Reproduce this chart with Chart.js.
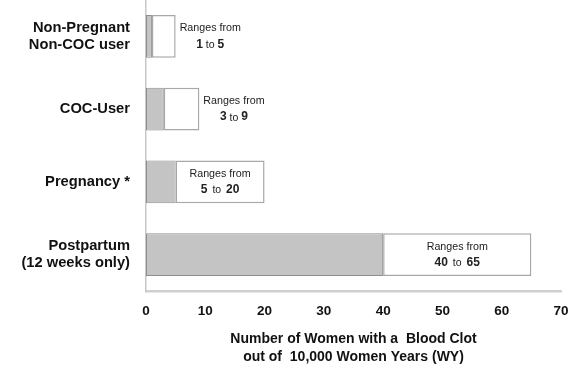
<!DOCTYPE html>
<html>
<head>
<meta charset="utf-8">
<script src="https://cdn.jsdelivr.net/npm/chart.js@4/dist/chart.umd.min.js"></script>
<style>
    body { margin: 0; background: #fff; }
    #grafico { display: block; }
</style>
</head>
<body>
<canvas id="grafico" width="582" height="382"></canvas>
<script>
// dados
const categorias = [
    ['Non-Pregnant', 'Non-COC user'],
    'COC-User',
    'Pregnancy *',
    ['Postpartum', '(12 weeks only)']
];
const valorMinimo = [1, 3, 5, 40];
const valorMaximo = [5, 9, 20, 65];
const tituloEixoX = ['Number of Women with a  Blood Clot', 'out of  10,000 Women Years (WY)'];

const fonte = '"Liberation Sans", Arial, sans-serif';

// plugin que escreve "Ranges from / x to y" em cada barra
const textoFaixas = {
    id: 'textoFaixas',
    afterDatasetsDraw(chart) {
        const ctx = chart.ctx;
        const meta = chart.getDatasetMeta(1);
        ctx.save();
        ctx.fillStyle = '#222';
        ctx.textBaseline = 'middle';
        meta.data.forEach((barra, i) => {
            const inicio = Math.min(barra.base, barra.x);
            const fim = Math.max(barra.base, barra.x);
            ctx.font = '10.7px ' + fonte;
            const w1 = ctx.measureText('Ranges from').width;

            // texto fica fora da barra se não couber
            let centro;
            if (w1 + 8 > fim - inicio) {
                centro = fim + 4 + w1 / 2;
            } else {
                centro = (inicio + fim) / 2;
            }

            ctx.textAlign = 'center';
            ctx.fillText('Ranges from', centro, barra.y - 8);

            const a = String(valorMinimo[i]);
            const b = String(valorMaximo[i]);
            ctx.font = 'bold 12px ' + fonte;
            const wa = ctx.measureText(a).width;
            const wb = ctx.measureText(b).width;
            ctx.font = '10.5px ' + fonte;
            const wt = ctx.measureText(' to ').width + (i >= 2 ? 4 : 0);
            let x = centro - (wa + wt + wb) / 2;

            ctx.textAlign = 'left';
            ctx.font = 'bold 12px ' + fonte;
            ctx.fillText(a, x, barra.y + 8);
            x += wa;
            ctx.font = '10.5px ' + fonte;
            ctx.textAlign = 'center';
            ctx.fillText('to', x + wt / 2, barra.y + 8.5);
            x += wt;
            ctx.textAlign = 'left';
            ctx.font = 'bold 12px ' + fonte;
            ctx.fillText(b, x, barra.y + 8);
        });
        ctx.restore();
    }
};

document.addEventListener('DOMContentLoaded', function() {
    const canvas = document.getElementById('grafico');
    const ctx = canvas.getContext('2d');

    const data = {
        labels: categorias,
        datasets: [{
            data: valorMinimo.map(v => [0, v]),
            backgroundColor: '#c4c4c4',
            borderColor: '#8e8e8e',
            borderWidth: 1,
            borderSkipped: false
        }, {
            data: valorMinimo.map((v, i) => [v, valorMaximo[i]]),
            backgroundColor: '#ffffff',
            borderColor: '#a8a8a8',
            borderWidth: 1.5,
            borderSkipped: false
        }]
    };

    const options = {
        responsive: false,
        animation: false,
        indexAxis: 'y',
        grouped: false,
        barPercentage: 0.59,
        categoryPercentage: 1,
        layout: { padding: { top: 0, right: 21, bottom: 0, left: 0 } },
        plugins: {
            legend: { display: false },
            tooltip: { enabled: false }
        },
        scales: {
            x: {
                min: 0,
                max: 70,
                ticks: {
                    stepSize: 10,
                    padding: 12,
                    color: '#111',
                    font: { family: fonte, size: 13.5, weight: 'bold' }
                },
                grid: { display: false, drawTicks: false },
                border: { display: true, color: '#d0d0d0', width: 2.5 },
                title: {
                    display: true,
                    text: tituloEixoX,
                    color: '#111',
                    font: { family: fonte, size: 14, weight: 'bold', lineHeight: '18px' },
                    padding: { top: 0, bottom: 16 }
                },
                afterFit: function(escala) {
                    escala.height = 91;
                    escala.paddingLeft = 0;
                }
            },
            y: {
                ticks: {
                    padding: 16,
                    color: '#111',
                    font: { family: fonte, size: 14.7, weight: 'bold', lineHeight: 1.15 }
                },
                grid: { display: false, drawTicks: false },
                border: { display: true, color: '#c8c8c8', width: 1.5 },
                afterFit: function(escala) {
                    escala.width = 146;
                    escala.paddingTop = 0;
                    escala.paddingBottom = 0;
                }
            }
        }
    };

    new Chart(ctx, {
        type: 'bar',
        data: data,
        options: options,
        plugins: [textoFaixas]
    });
});
</script>
</body>
</html>
